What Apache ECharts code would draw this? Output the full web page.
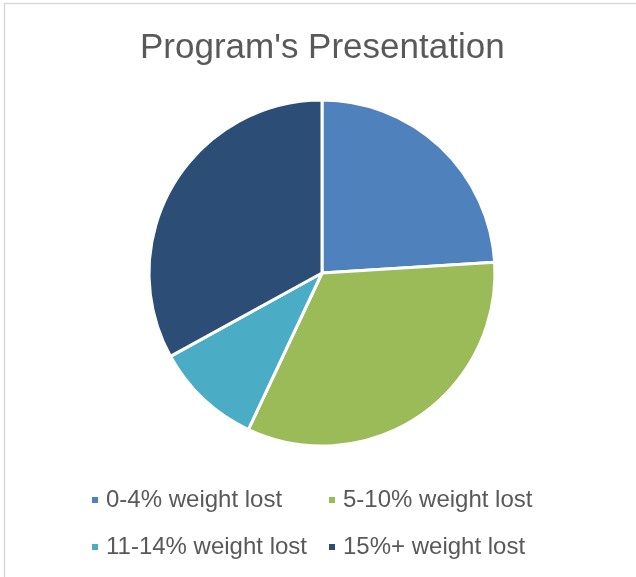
<!DOCTYPE html>
<html><head><meta charset="utf-8">
<script src="https://cdn.jsdelivr.net/npm/echarts@6/dist/echarts.min.js"></script>
<style>html,body{margin:0;padding:0;background:#fff}#c{width:636px;height:577px}</style>
</head><body><div id="c"></div>
<script>
const categories = ['0-4% weight lost', '5-10% weight lost', '11-14% weight lost', '15%+ weight lost'];
const values = [24, 33, 10, 33];
const colors = ['#4F81BD', '#9BBB59', '#4BACC6', '#2C4D75'];
const titleText = "Program's Presentation";

const chart = echarts.init(document.getElementById('c'), null, {renderer: 'canvas'});
const font = '"Liberation Sans", Arial, sans-serif';
const legendCommon = {
  orient: 'vertical', icon: 'rect', itemWidth: 8, itemHeight: 8, itemGap: 23,
  textStyle: {fontFamily: font, fontSize: 24, color: '#595959', padding: [0,0,0,2]},
  selectedMode: false
};
chart.setOption({
  animation: false,
  color: colors,
  graphic: [{type: 'rect', shape: {x: 4.5, y: 3.5, width: 800, height: 800}, style: {fill: 'none', stroke: '#d9d9d9', lineWidth: 1.5}}],
  title: {text: titleText, left: 135, top: 26, textStyle: {fontFamily: font, fontSize: 35, fontWeight: 'normal', color: '#595959'}},
  legend: [
    Object.assign({left: 85, top: 483, data: [categories[0], categories[2]]}, legendCommon),
    Object.assign({left: 322, top: 483, data: [categories[1], categories[3]]}, legendCommon)
  ],
  series: [{
    type: 'pie', center: [322, 273], radius: 173, startAngle: 90, clockwise: true,
    label: {show: false}, labelLine: {show: false}, emphasis: {disabled: true},
    itemStyle: {borderColor: '#fff', borderWidth: 3},
    data: categories.map((c, i) => ({name: c, value: values[i]}))
  }]
});
</script></body></html>
